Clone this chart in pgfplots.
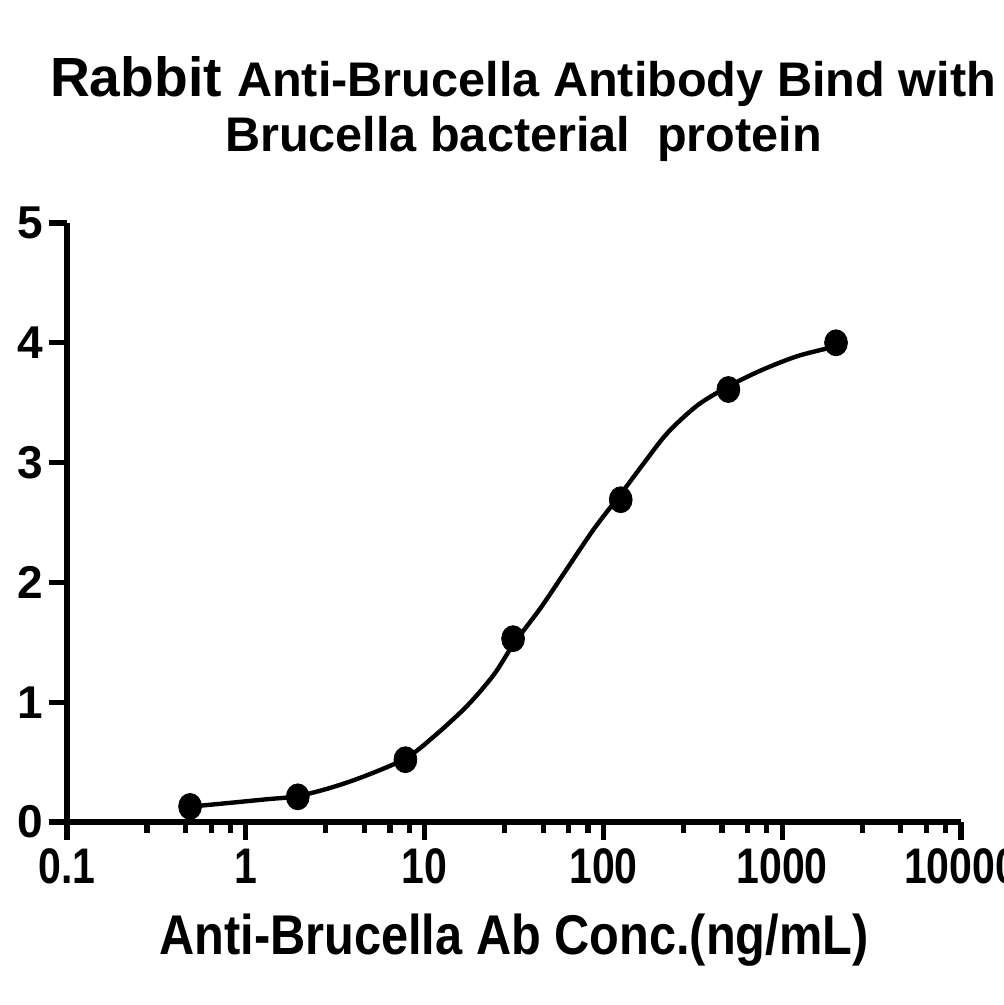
\documentclass[border=0pt]{standalone}
\usepackage{pgfplots}
\pgfplotsset{compat=1.18}
\usepackage{fontspec}
\setmainfont{Liberation Sans}
\begin{document}
\begin{tikzpicture}[x=1pt,y=1pt]
\useasboundingbox (0,0) rectangle (501.5,502.5);
\begin{axis}[
  at={(33.5pt,91.5pt)}, anchor=south west,
  scale only axis, width=447pt, height=299.5pt,
  xmode=log, xmin=0.1, xmax=10000, ymin=0, ymax=5,
  axis lines=left, axis line style={line width=2.8pt, -},
  every tick/.style={line width=2.6pt, black},
  tick align=outside,
  major tick length=9pt, minor tick length=5.5pt,
  xtick={0.1,1,10,100,1000,10000},
  xticklabels={0.1,1,10,100,1000,10000},
  minor xtick={0.28,0.46,0.64,0.82,2.8,4.6,6.4,8.2,28,46,64,82,280,460,640,820,2800,4600,6400,8200},
  ytick={0,1,2,3,4,5},
  yticklabels={0,1,2,3,4,5},
  xticklabel style={font=\fontsize{25}{25}\selectfont\bfseries, xscale=0.82, yshift=-1pt},
  yticklabel style={font=\fontsize{23}{23}\selectfont\bfseries, xshift=0.5pt},
  clip=false,
]
\addplot[black, line width=2.2pt, smooth, tension=0.5, no markers] coordinates {
 (0.488,0.128) (0.818,0.16) (1.314,0.19) (1.94,0.215) (2.97,0.285) (4.57,0.38)
 (7.81,0.53) (11.3,0.715) (17.3,0.97) (24.4,1.23) (31.6,1.49) (44.7,1.79)
 (63.0,2.12) (88.9,2.45) (125.4,2.74) (169.3,3.00) (229,3.25) (337,3.48)
 (507,3.64) (762,3.77) (1224,3.89) (2000,3.97)
};
\addplot[only marks, mark=*, mark size=6.5pt, mark options={xscale=0.88, fill=black, draw=black}] coordinates {
 (0.488,0.13) (1.953,0.21) (7.813,0.52) (31.25,1.53) (125,2.69) (500,3.61) (2000,4.00)
};
\end{axis}
\node[anchor=base, inner sep=0] at (261.5,454) {\bfseries\fontsize{27.6}{30}\selectfont Rabbit \fontsize{24.3}{28}\selectfont Anti-Brucella Antibody Bind with};
\node[anchor=base, inner sep=0] at (261.75,426.5) {\bfseries\fontsize{24.3}{28}\selectfont Brucella bacterial\ \ protein};
\node[anchor=base, inner sep=0] at (257,25) {\scalebox{0.87}[1]{\bfseries\fontsize{28}{30}\selectfont Anti-Brucella Ab Conc.(ng/mL)}};
\end{tikzpicture}
\end{document}
